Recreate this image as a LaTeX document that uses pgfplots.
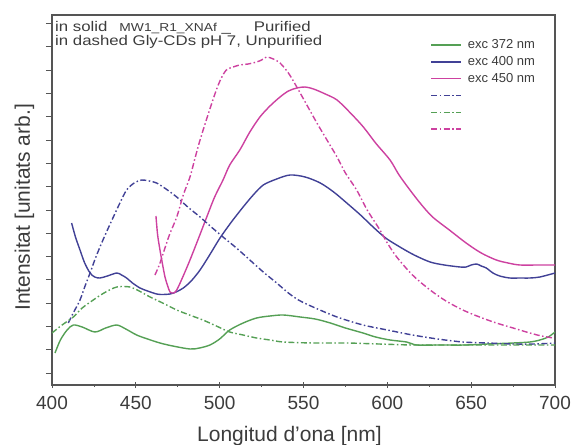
\documentclass[border=0pt]{standalone}
\usepackage{fontspec}
\setmainfont{Liberation Sans}
\usepackage{pgfplots}
\pgfplotsset{compat=1.18}
\definecolor{cgreen}{RGB}{85,160,85}
\definecolor{cblue}{RGB}{65,65,150}
\definecolor{cmag}{RGB}{205,65,160}
\definecolor{txt}{RGB}{60,60,60}
\definecolor{axc}{RGB}{85,85,85}
\begin{document}
\begin{tikzpicture}
\useasboundingbox (-52pt,-60pt) rectangle (519pt,385pt);
\begin{axis}[
  at={(0pt,0pt)}, anchor=south west,
  scale only axis, width=503pt, height=370pt,
  xmin=400, xmax=700, ymin=0, ymax=370,
  axis line style={axc, line width=1.1pt},
  xtick={400,450,...,700},
  minor xtick={425,475,...,675},
  ytick={12,35.3,...,365},
  yticklabels={},
  xtick pos=bottom, ytick pos=left,
  xtick align=center, ytick align=outside,
  major tick length=6pt, minor tick length=3pt,
  tick style={axc, line width=0.8pt},
  /pgf/number format/assume math mode=true,
  xticklabel style={font=\fontsize{19}{20}\selectfont, text=txt, yshift=-5pt},
  xlabel={Longitud d'ona [nm]},
  xlabel style={font=\fontsize{21}{22}\selectfont, text=txt, at={(axis description cs:0.472,0)}, anchor=base, yshift=-56pt},
  ylabel={Intensitat [unitats arb.]},
  ylabel style={font=\fontsize{21}{22}\selectfont, text=txt, at={(axis description cs:-0.035,0.48)}, anchor=south, inner sep=0pt},
  legend style={draw=none, fill=none, font=\fontsize{13}{14}\selectfont, text=txt,
    at={(axis description cs:0.746,0.942)}, anchor=north west,
    row sep=3.8pt, column sep=4pt, nodes={inner ysep=0pt, text height=10pt, text depth=3pt, anchor=west}},
  legend cell align=left,
  legend image code/.code={\draw[#1, line width=1.4pt] (0pt,0pt) -- (30pt,0pt);},
  every axis plot/.append style={line width=1.4pt},
  dd/.style={dash pattern=on 6pt off 2.5pt on 1.5pt off 2.5pt}
]
\addplot[cgreen, smooth] coordinates {
(401.8,32) (405,45) (409,55) (412.7,60) (418,58) (425.6,53) (432,57) (438.6,60) (444,56) (450.5,50) (457,46) (464.4,42) (472,39) (482.3,36) (488,37) (494.2,40) (500,46) (506,55) (514,62) (522,67) (530,69) (538,70) (548,68) (557,66) (566,62) (575,57) (585.5,52) (593,48) (601.6,45) (611.5,43) (617.5,40) (630,40) (647,40) (660,41) (675,42) (685,43) (691,45) (696,48) (700,53)};
\addlegendentry{exc 372 nm}
\addplot[cblue, smooth] coordinates {
(411.7,162) (414,148) (416.7,135) (419.5,122) (422.7,112) (425.5,108) (428.6,107) (433,109) (438.6,112) (441.5,110) (444.5,107) (448,102) (452.5,97) (457,94) (462.4,91) (466,90.5) (470.4,91) (474,93) (478.3,97) (483,104) (488.3,115) (494,130) (500.2,147) (507,163) (514,178) (520,190) (526,200) (534,206) (542,210) (551,208) (560,202) (568,193) (575.8,182) (584,170) (591.5,158) (599,147) (607.5,138) (616,130) (625.5,123) (634,120) (643.4,118) (647,118) (650,120) (653.3,121) (656,119) (659,117) (663,112) (667,109) (673,107) (679,107) (685,107) (691,108) (700,112)};
\addlegendentry{exc 400 nm}
\addplot[cmag, smooth] coordinates {
(462,169) (463,150) (464.4,135) (466,120) (467.4,108) (469,99) (470.4,93) (472.5,92) (474.4,95) (478,108) (482.3,125) (487,145) (492.3,168) (497,188) (502,205) (506,220) (512,235) (518,253) (524,268) (530,279) (536,288) (541,294) (546,297) (551,298) (556,296) (563,291) (570,285) (578,272) (585.7,258) (593,242) (601.6,225) (607,210) (613.5,195) (620,181) (627,168) (637,155) (647,142) (656,132) (665,125) (672,122) (679,120) (690,120) (700,120)};
\addlegendentry{exc 450 nm}
\addplot[cblue, dd, smooth] coordinates {
(409.7,62) (413,73) (416.7,85) (419.5,98) (422.7,112) (425.5,125) (428.6,138) (432.5,153) (436.6,168) (440.5,182) (444.5,195) (449,202) (453.5,205) (458,204) (462.4,202) (468,196) (474.4,188) (481,178) (488.3,168) (495,158) (502,148) (510,137) (518,125) (526,113) (534,102) (541,92) (547,85) (555.7,78) (570,68) (585.5,60) (600,55) (615,50) (630,46) (645,43) (660,42) (675,41) (688,41) (700,42)};
\addlegendentry{}
\addplot[cgreen, dd, smooth] coordinates {
(400,52) (406,60) (412.7,68) (418,77) (424.6,85) (431,92) (438.6,98) (446.5,98) (452,94) (458.5,88) (466,82) (474.4,75) (482,70) (490,65) (498,59) (506,53) (514,50) (522,47) (530,45) (538,43) (556,42) (575.8,42) (595,41) (615,40) (635,40) (655,40) (678,40) (700,40)};
\addlegendentry{}
\addplot[cmag, dd, smooth] coordinates {
(461.4,110) (464,120) (466.4,132) (470,150) (474.4,168) (478.3,190) (482.3,208) (485,225) (488.3,245) (493,270) (498,295) (501,307) (504,315) (508,318) (512,320) (517,321) (522,323) (525,325) (528,328) (532,326) (536,322) (541,312) (546,298) (552,280) (558,262) (564,245) (570,228) (575,212) (581.7,195) (588,175) (595.6,155) (600,142) (605.6,128) (615,110) (625.5,95) (635,84) (645,75) (655,68) (665,62) (675,57) (685,52) (692,49) (699,47)};
\addlegendentry{}
\node[anchor=north west, inner sep=0pt, text=txt, align=left, font=\fontsize{14}{12.5}\selectfont]
  at ([xshift=3pt,yshift=-6pt]rel axis cs:0,1)
  {\scalebox{1.2}[1]{in solid\hspace{10pt}{\fontsize{11.5}{12}\selectfont MW1\_R1\_XNAf}\hspace{4pt}\_\hspace{19pt}Purified}\\
   \scalebox{1.2}[1]{in dashed Gly-CDs pH 7, Unpurified}};
\end{axis}
\end{tikzpicture}
\end{document}
